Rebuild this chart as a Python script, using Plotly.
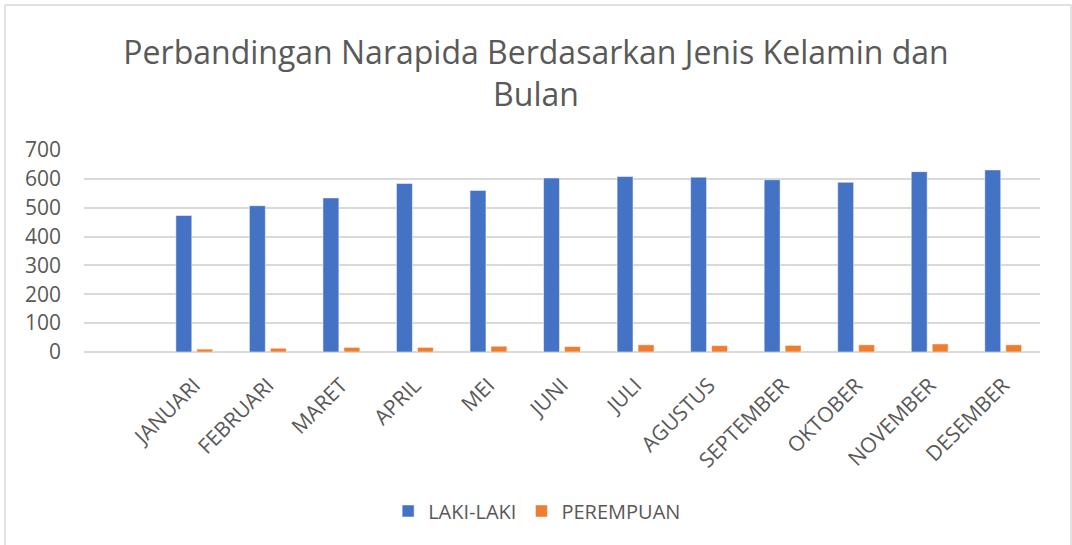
import plotly.graph_objects as go

months = ["JANUARI", "FEBRUARI", "MARET", "APRIL", "MEI", "JUNI", "JULI",
          "AGUSTUS", "SEPTEMBER", "OKTOBER", "NOVEMBER", "DESEMBER"]
laki_laki = [473, 507, 534, 584, 560, 603, 608, 606, 597, 588, 625, 631]
perempuan = [10, 13, 16, 16, 20, 19, 25, 22, 23, 25, 28, 25]
y_ticks = [0, 100, 200, 300, 400, 500, 600, 700]

FONT = "Open Sans"
GRAY = "#595959"

fig = go.Figure()
fig.add_trace(go.Bar(name="LAKI-LAKI", x=months, y=laki_laki,
                     marker=dict(color="#4472C4", line=dict(color="rgba(255,255,255,0.5)", width=1))))
fig.add_trace(go.Bar(name="PEREMPUAN", x=months, y=perempuan,
                     marker=dict(color="#ED7D31", line=dict(color="rgba(255,255,255,0.5)", width=1))))

fig.update_layout(
    width=1072, height=545,
    margin=dict(l=84, r=32, t=150, b=193),
    paper_bgcolor="white", plot_bgcolor="white",
    barmode="group", bargap=0.43, bargroupgap=0.24,
    font=dict(family=FONT, color=GRAY),
    title=dict(text="Perbandingan Narapida Berdasarkan Jenis Kelamin dan<br>Bulan",
               x=0.5, xref="container", xanchor="center",
               y=0.882, yref="container", yanchor="middle",
               font=dict(family=FONT, size=32, color=GRAY)),
    showlegend=True,
    legend=dict(orientation="h", x=0.474, xanchor="center", y=-0.787, yanchor="middle",
                font=dict(family=FONT, size=20, color=GRAY), itemwidth=30,
                traceorder="normal"),
    xaxis=dict(type="category", range=[-1.5, 11.5], tickangle=-45,
               showgrid=False, showline=False, ticks="",
               tickfont=dict(family=FONT, size=21, color=GRAY),
               ticklabelstandoff=16),
    yaxis=dict(range=[0, 700], tickvals=y_ticks, showgrid=True,
               gridcolor="#d9d9d9", gridwidth=1.5, zeroline=True,
               zerolinecolor="#d9d9d9", zerolinewidth=1.5, showline=False,
               ticks="", tickfont=dict(family=FONT, size=21, color=GRAY),
               ticklabelstandoff=22),
    shapes=[dict(type="rect", xref="paper", yref="paper",
                 x0=-0.0826, x1=1.0324, y0=-0.97, y1=1.718,
                 line=dict(color="#d9d9d9", width=1.5), fillcolor="rgba(0,0,0,0)",
                 layer="below")],
)

fig.write_html("out.html", config={"displayModeBar": False},
               post_script="document.body.style.margin='0';document.body.style.padding='0';")
